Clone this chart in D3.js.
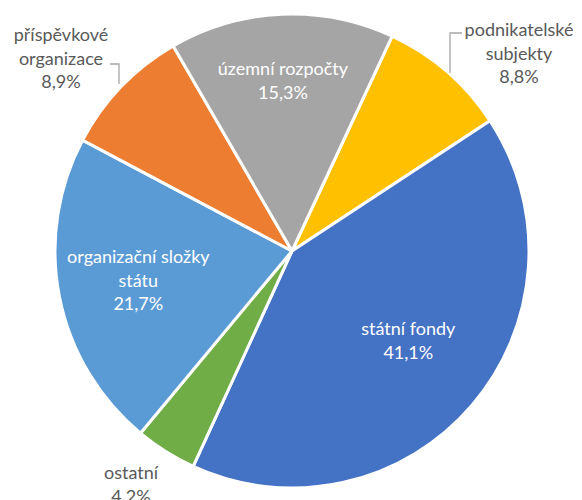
<!DOCTYPE html>
<html>
<head>
<meta charset="utf-8">
<script src="https://cdn.jsdelivr.net/npm/d3@7"></script>
<style>
  html, body { margin: 0; padding: 0; background: #fff; }
  svg { display: block; }
  text { font-family: Lato, "Open Sans", sans-serif; font-size: 18px; }
</style>
</head>
<body>
<svg id="chart" width="582" height="500"></svg>
<script>
// Share of recipients (in %), listed clockwise
const categories = ["podnikatelské subjekty", "státní fondy", "ostatní", "organizační složky státu", "příspěvkové organizace", "územní rozpočty"];
const labelLines = [["podnikatelské", "subjekty"], ["státní fondy"], ["ostatní"], ["organizační složky", "státu"], ["příspěvkové", "organizace"], ["územní rozpočty"]];
const shares = [8.8, 41.1, 4.2, 21.7, 8.9, 15.3];
const colors = ["#FFC000", "#4472C4", "#70AD47", "#5B9BD5", "#ED7D31", "#A5A5A5"];

const cx = 292, cy = 251, R = 237;
const startDeg = 25;

const svg = d3.select("#chart");
const g = svg.append("g").attr("transform", `translate(${cx},${cy})`);

const pie = d3.pie().sort(null).value(d => d)
  .startAngle(startDeg * Math.PI / 180)
  .endAngle((startDeg + 360) * Math.PI / 180);
const arcs = pie(shares);
const arc = d3.arc().innerRadius(0).outerRadius(R);

g.selectAll("path.slice").data(arcs).enter().append("path")
  .attr("class", "slice")
  .attr("d", arc)
  .attr("fill", (d, i) => colors[i])
  .attr("stroke", "#fff")
  .attr("stroke-width", 3)
  .attr("stroke-linejoin", "round");

const fmt = v => d3.format(".1f")(v).replace(".", ",") + "%";

// label placement: inside labels sit on a radius fraction along the slice mid-angle,
// outside labels are anchored next to the pie with a short leader line
const layout = [
  { outside: true, x: 519, y: 30, leader: [[462, 33], [450, 33], [450, 73]] },
  { outside: false, rf: 0.62, da: -3 },
  { outside: true, x: 131, y: 473 },
  { outside: false, rf: 0.66, da: 0.4 },
  { outside: true, x: 61, y: 35, leader: [[110, 64], [119, 64], [119, 84]] },
  { outside: false, rf: 0.72, da: -0.5 }
];
const lineH = 23.5;

arcs.forEach((a, i) => {
  const L = layout[i];
  const lines = labelLines[i].concat([fmt(shares[i])]);
  let x, y, fill;
  if (L.outside) {
    x = L.x; y = L.y; fill = "#595959";
    if (L.leader) {
      svg.append("path")
        .attr("d", d3.line()(L.leader))
        .attr("fill", "none")
        .attr("stroke", "#A6A6A6")
        .attr("stroke-width", 1.3);
    }
  } else {
    const mid = (a.startAngle + a.endAngle) / 2 + (L.da || 0) * Math.PI / 180;
    x = cx + Math.sin(mid) * R * L.rf;
    y = cy - Math.cos(mid) * R * L.rf - (lines.length - 1) * lineH / 2;
    fill = "#fff";
  }
  const t = svg.append("text")
    .attr("text-anchor", "middle")
    .attr("fill", fill);
  lines.forEach((s, k) => {
    t.append("tspan").attr("x", x).attr("y", y + k * lineH).attr("dy", "0.35em").text(s);
  });
});
</script>
</body>
</html>
